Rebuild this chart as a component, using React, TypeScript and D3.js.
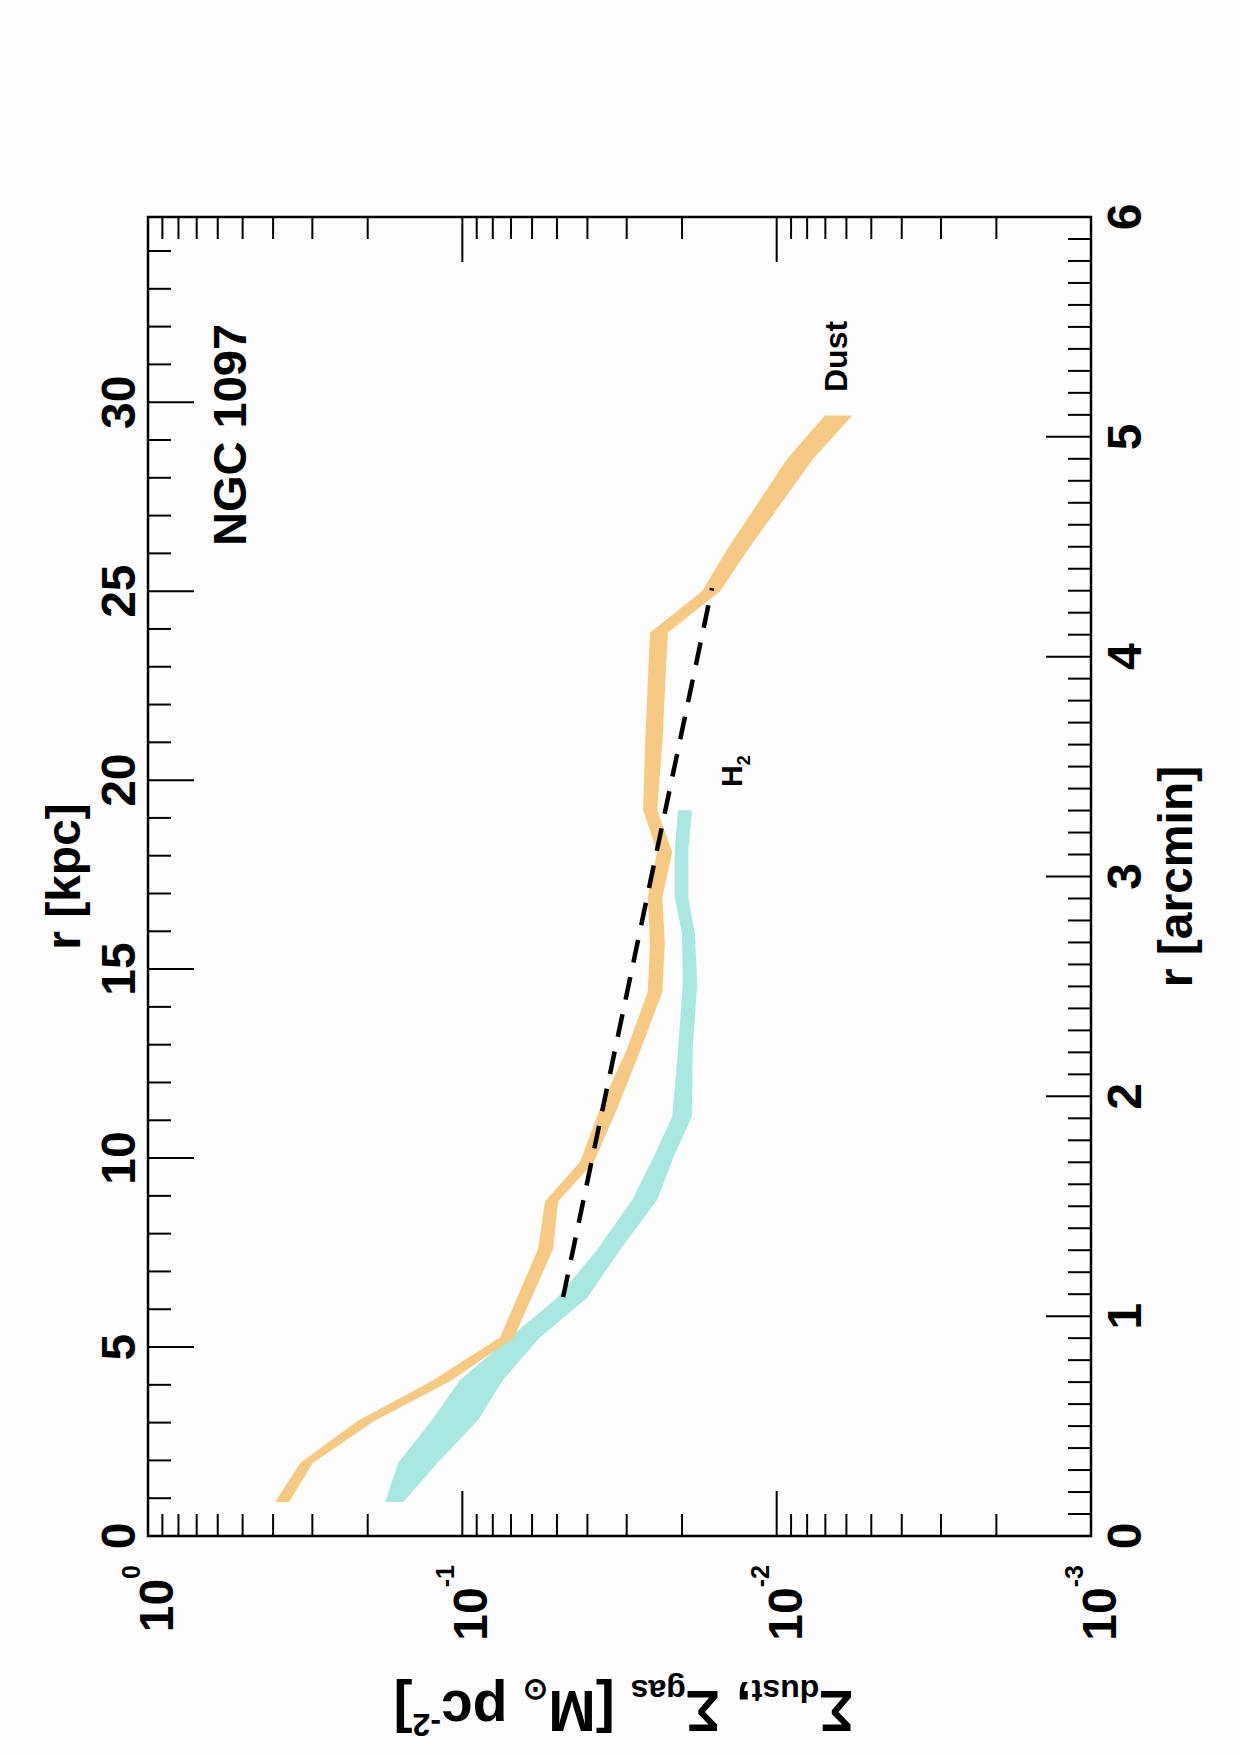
import * as d3 from "d3";

// radial profiles of NGC 1097, r in kpc, surface densities in Msun pc^-2
const dustR = [0.9, 1.93, 3.05, 4.1, 5.25, 7.6, 8.85, 9.9, 11.3, 12.9, 14.4, 15.7, 16.9, 18.1, 19.2, 21.0, 23.9, 25.0, 26.1, 28.5, 29.65];
const dustHi = [0.394, 0.328, 0.215, 0.125, 0.0759, 0.0574, 0.0546, 0.0422, 0.0365, 0.0299, 0.0257, 0.0253, 0.0257, 0.024, 0.0266, 0.0262, 0.0253, 0.01727, 0.01438, 0.00927, 0.00702];
const dustLo = [0.356, 0.299, 0.19, 0.109, 0.0685, 0.0514, 0.0496, 0.0381, 0.0322, 0.027, 0.0231, 0.0227, 0.0231, 0.0215, 0.024, 0.0231, 0.0222, 0.01514, 0.01233, 0.00766, 0.00575];

const h2R = [0.9, 1.93, 3.07, 4.13, 5.26, 6.3, 7.57, 8.9, 10.1, 11.1, 12.86, 14.6, 15.95, 16.9, 18.15, 19.2];
const h2Hi = [0.176, 0.16, 0.125, 0.1017, 0.0705, 0.05, 0.0373, 0.0288, 0.0244, 0.0215, 0.0206, 0.0199, 0.02, 0.0211, 0.0211, 0.0206];
const h2Lo = [0.154, 0.12, 0.0891, 0.0742, 0.0566, 0.0401, 0.0315, 0.024, 0.0211, 0.0186, 0.0185, 0.0179, 0.0182, 0.0191, 0.0191, 0.0186];

// fitted exponential (dashed)
const fitR = [6.32, 25.08];
const fitVal = [0.0478, 0.01606];

const kpcLabels = [0, 5, 10, 15, 20, 25, 30];
const arcLabels = [0, 1, 2, 3, 4, 5, 6];
const logLabels = [1, 0.1, 0.01, 0.001];
const logExps = ["0", "-1", "-2", "-3"];

const KPC_MAX = 34.9;
const ARC_MAX = 6;
const W = 1319; // along r
const H = 943; // along log axis
const FONT = "'Liberation Sans', Arial, Helvetica, sans-serif";

export default function App() {
  const xKpc = d3.scaleLinear().domain([0, KPC_MAX]).range([0, W]);
  const xArc = d3.scaleLinear().domain([0, ARC_MAX]).range([0, W]);
  const y = d3.scaleLog().domain([1e-3, 1]).range([H, 0]);

  const band = d3
    .area<number[]>()
    .x((d) => xKpc(d[0]))
    .y0((d) => y(d[2]))
    .y1((d) => y(d[1]));
  const line = d3
    .line<number[]>()
    .x((d) => xKpc(d[0]))
    .y((d) => y(d[1]));

  const dust = dustR.map((r, i) => [r, dustHi[i], dustLo[i]]);
  const h2 = h2R.map((r, i) => [r, h2Hi[i], h2Lo[i]]);
  const fit = fitR.map((r, i) => [r, fitVal[i]]);

  const logTicks = y.ticks();
  const isDecade = (v: number) => Math.abs(Math.log10(v) - Math.round(Math.log10(v))) < 1e-6;
  const kpcTicks = d3.range(0, 35, 1);
  const arcTicks = d3.range(0, 61).map((d) => d / 10);

  return (
    <svg width={1240} height={1755} style={{ position: "absolute", left: 0, top: 0 }} fontFamily={FONT} fontWeight="bold">
      <rect width={1240} height={1755} fill="#fdfdfd" />
      {/* landscape plot, turned a quarter turn */}
      <g transform="translate(148,1536) rotate(-90)">
        <path d={band(h2) ?? ""} fill="#a9e8e2" />
        <path d={band(dust) ?? ""} fill="#f6ca82" />
        <path d={line(fit) ?? ""} fill="none" stroke="#000" strokeWidth={4.5} strokeDasharray="23 15" />

        {/* log ticks left & right */}
        {logTicks.map((t) => {
          const len = isDecade(t) ? 45 : 22;
          return (
            <g key={"l" + t}>
              <line x1={0} x2={len} y1={y(t)} y2={y(t)} stroke="#000" strokeWidth={2} />
              <line x1={W} x2={W - len} y1={y(t)} y2={y(t)} stroke="#000" strokeWidth={2} />
            </g>
          );
        })}
        {/* kpc ticks on top */}
        {kpcTicks.map((t) => (
          <line key={"k" + t} x1={xKpc(t)} x2={xKpc(t)} y1={0} y2={t % 5 === 0 ? 46 : 23} stroke="#000" strokeWidth={2} />
        ))}
        {/* arcmin ticks on bottom */}
        {arcTicks.map((t, i) => (
          <line key={"a" + i} x1={xArc(t)} x2={xArc(t)} y1={H} y2={H - (i % 10 === 0 ? 45 : 23)} stroke="#000" strokeWidth={2} />
        ))}
        <rect x={0} y={0} width={W} height={H} fill="none" stroke="#000" strokeWidth={2.5} />

        {kpcLabels.map((t) => (
          <text key={"kl" + t} x={xKpc(t)} y={-13} fontSize={48} textAnchor="middle">
            {t}
          </text>
        ))}
        {arcLabels.map((t) => (
          <text key={"al" + t} x={xArc(t)} y={H + 50} fontSize={48} textAnchor="middle">
            {t}
          </text>
        ))}
        {logLabels.map((t, i) => (
          <text key={"ll" + t} x={-29} y={y(t) + 25} fontSize={48} textAnchor="end">
            10
            <tspan fontSize={25} dy={-33}>
              {logExps[i]}
            </tspan>
          </text>
        ))}

        <text x={W / 2} y={-68} fontSize={48} textAnchor="middle">
          r [kpc]
        </text>
        <text x={W / 2} y={H + 101} fontSize={48} textAnchor="middle">
          r [arcmin]
        </text>
        <text transform={`translate(-155,${H / 2 + 4}) rotate(-90)`} fontSize={57} textAnchor="middle">
          Σ<tspan fontSize={32} dy={11}>dust</tspan>
          <tspan dy={-11}>, Σ</tspan>
          <tspan fontSize={32} dy={11}>gas</tspan>
          <tspan dy={-11}> [M</tspan>
          <tspan fontSize={30} dy={11}>⊙</tspan>
          <tspan dy={-11}> pc</tspan>
          <tspan fontSize={32} dy={-23}>-2</tspan>
          <tspan dy={23}>]</tspan>
        </text>

        <text x={990} y={98} fontSize={47}>
          NGC 1097
        </text>
        <text x={1144} y={699} fontSize={32}>
          Dust
        </text>
        <text x={749} y={594} fontSize={30}>
          H<tspan fontSize={18} dy={8}>2</tspan>
        </text>
      </g>
    </svg>
  );
}
